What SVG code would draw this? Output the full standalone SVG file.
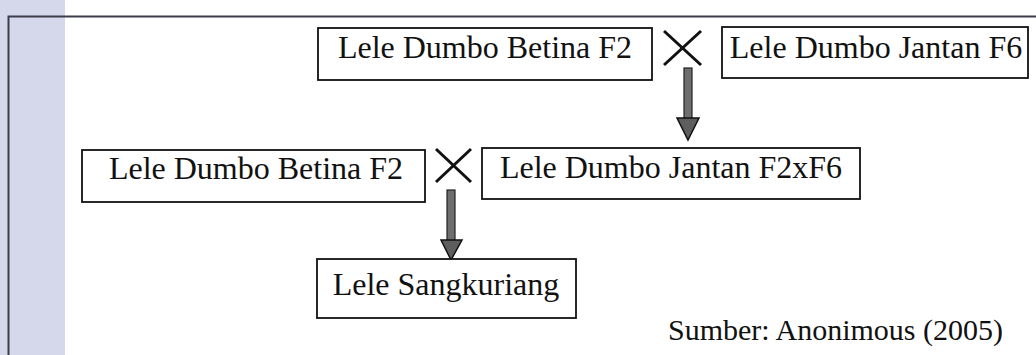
<svg xmlns="http://www.w3.org/2000/svg" width="1036" height="355" viewBox="0 0 1036 355">
  <style>
    .box { fill: #ffffff; stroke: #111111; stroke-width: 1.8; }
    .label { font-family: "Liberation Serif", "Times New Roman", serif; font-size: 32px; fill: #111111; text-anchor: middle; }
    .cross { stroke: #111111; stroke-width: 3; stroke-linecap: butt; }
    .shaft { fill: #6e6e6e; stroke: #222222; stroke-width: 1.2; }
    .head { fill: #5e5e5e; stroke: #111111; stroke-width: 1.5; stroke-linejoin: miter; }
    .frame { stroke: #3c3c4a; stroke-width: 2; fill: none; }
    .note { font-family: "Liberation Serif", "Times New Roman", serif; font-size: 30px; fill: #111111; }
  </style>

  <!-- page background and side strip -->
  <rect x="0" y="0" width="1036" height="355" fill="#ffffff"/>
  <rect x="0" y="0" width="65" height="355" fill="#d5d8ea"/>
  <path class="frame" d="M8.5,355 V16.5 H1036"/>

  <!-- crossing symbols and downward arrows -->
  <g id="connectors">
    <g id="cross-1">
      <line class="cross" x1="664" y1="31" x2="701" y2="65"/>
      <line class="cross" x1="701" y1="31" x2="664" y2="65"/>
    </g>
    <g id="arrow-1">
      <rect class="shaft" x="684" y="68" width="8" height="51"/>
      <polygon class="head" points="677,118 699,118 688,140"/>
    </g>
    <g id="cross-2">
      <line class="cross" x1="436" y1="149" x2="471" y2="182"/>
      <line class="cross" x1="471" y1="149" x2="436" y2="182"/>
    </g>
    <g id="arrow-2">
      <rect class="shaft" x="447" y="190" width="8" height="51"/>
      <polygon class="head" points="441,240 462,240 451,260"/>
    </g>
  </g>

  <g id="betina-f2-top">
    <rect class="box" x="318" y="28" width="334" height="52"/>
    <text class="label" x="485" y="58">Lele Dumbo Betina F2</text>
  </g>

  <g id="jantan-f6">
    <rect class="box" x="722" y="27" width="306" height="51"/>
    <text class="label" x="876" y="58">Lele Dumbo Jantan F6</text>
  </g>

  <g id="jantan-f2xf6">
    <rect class="box" x="482" y="148" width="378" height="51"/>
    <text class="label" x="671" y="178">Lele Dumbo Jantan F2xF6</text>
  </g>

  <g id="betina-f2-bottom">
    <rect class="box" x="82" y="150" width="343" height="52"/>
    <text class="label" x="256" y="179">Lele Dumbo Betina F2</text>
  </g>

  <g id="sangkuriang">
    <rect class="box" x="317" y="259" width="259" height="59"/>
    <text class="label" x="446" y="295">Lele Sangkuriang</text>
  </g>

  <text class="note" x="668" y="340">Sumber: Anonimous (2005)</text>
</svg>
